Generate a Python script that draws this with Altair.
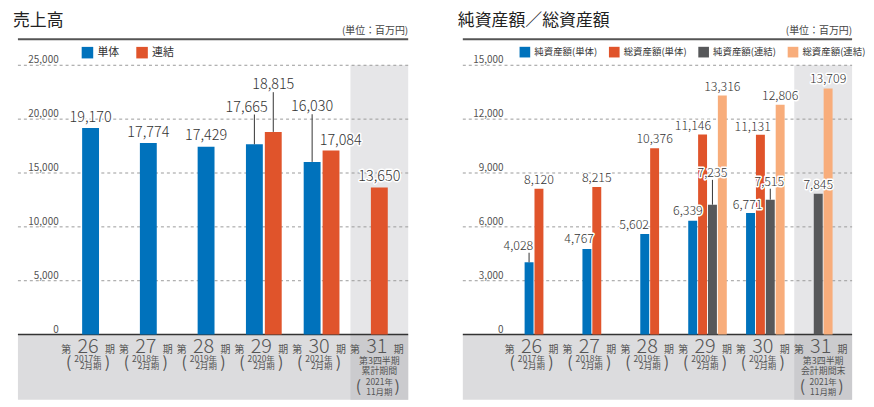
import altair as alt
import pandas as pd

FONT = "Noto Sans CJK JP"

# ---------------- data ----------------
periods = ["26", "27", "28", "29", "30", "31"]
year_labels = ["2017年", "2018年", "2019年", "2020年", "2021年", "2021年"]
month_labels = ["2月期", "2月期", "2月期", "2月期", "2月期", "11月期"]
sales_note1 = ["", "", "", "", "", "第3四半期"]
sales_note2 = ["", "", "", "", "", "累計期間"]
asset_note1 = ["", "", "", "", "", "第3四半期"]
asset_note2 = ["", "", "", "", "", "会計期間末"]

sales_series = ["単体", "連結"]
sales_standalone = [19170, 17774, 17429, 17665, 16030, None]
sales_consolidated = [None, None, None, 18815, 17084, 13650]
sales_ticks = [0, 5000, 10000, 15000, 20000, 25000]

asset_series = ["純資産額(単体)", "総資産額(単体)", "純資産額(連結)", "総資産額(連結)"]
net_assets_standalone = [4028, 4767, 5602, 6339, 6771, None]
total_assets_standalone = [8120, 8215, 10376, 11146, 11131, None]
net_assets_consolidated = [None, None, None, 7235, 7515, 7845]
total_assets_consolidated = [None, None, None, 13316, 12806, 13709]
asset_ticks = [0, 3000, 6000, 9000, 12000, 15000]

# ---------------- styling / layout ----------------
sales_colors = ["#0072bc", "#e0542b"]
asset_colors = ["#0072bc", "#e0542b", "#57585a", "#f8ad7b"]

# value label nudges: (series, period) -> (dx px, lift px above bar top, leader line)
sales_nudges = {
    ("単体", "29"): (-8, 37, True),
    ("連結", "29"): (0, 47, True),
    ("単体", "30"): (0, 55, True),
    ("連結", "30"): (10, 9.5, False),
}
asset_nudges = {
    ("純資産額(単体)", "26"): (-11, 16.6, True),
    ("純資産額(単体)", "27"): (-8, 10, False),
    ("純資産額(単体)", "28"): (-11, 9, False),
    ("純資産額(単体)", "29"): (-5, 10, False),
    ("総資産額(単体)", "29"): (-10, 8, False),
    ("純資産額(連結)", "29"): (0, 32, True),
    ("純資産額(単体)", "30"): (-3, 8.5, False),
    ("総資産額(単体)", "30"): (-8, 8, False),
    ("純資産額(連結)", "30"): (-1, 18, True),
}

BAND = "#dcdcde"
COL_TOP = "#e6e6e8"
COL_BOTTOM = "#cbcbce"
TXT = "#333333"
GRAY_TXT = "#555555"


def long_table(series, values, nudges, default_lift):
    rows = []
    for s_i, (name, vals) in enumerate(zip(series, values)):
        for c_i, v in enumerate(vals):
            if v is None:
                continue
            dx, lift, leader = nudges.get((name, periods[c_i]), (0, default_lift, False))
            rows.append({"period": periods[c_i], "idx": c_i, "series": name, "s": s_i,
                         "value": v, "dx": dx, "lift": lift, "leader": leader})
    return pd.DataFrame(rows)


def panel(title, series, values, colors, ticks, note1, note2, nudges, cfg):
    W, H = cfg["width"], cfg["height"]
    xmin, xmax, ymin, ymax = cfg["xmin"], cfg["xmax"], cfg["ymin"], cfg["ymax"]
    ppx = W / (xmax - xmin)
    ppu = H / (ymax - ymin)
    xs = alt.Scale(domain=[xmin, xmax], nice=False, zero=False)
    ys = alt.Scale(domain=[ymin, ymax], nice=False, zero=False)

    def XD(v):
        return alt.XDatum(v, scale=xs, axis=None)

    def YD(v):
        return alt.YDatum(v, scale=ys, axis=None)

    df = long_table(series, values, nudges, cfg["lift"])
    one = pd.DataFrame({"k": [0]})
    tick_df = pd.DataFrame({"tick": ticks})
    cat_df = pd.DataFrame({"idx": list(range(len(periods))), "period": periods,
                           "year": year_labels, "month": month_labels,
                           "note1": note1, "note2": note2})
    last = len(periods) - 1

    band = alt.Chart(one).mark_rect(color=BAND).encode(
        x=XD(xmin), x2=alt.X2Datum(xmax), y=YD(ymin), y2=alt.Y2Datum(0))
    col_top = alt.Chart(one).mark_rect(color=COL_TOP).encode(
        x=XD(last - 0.5), x2=alt.X2Datum(last + 0.5), y=YD(0), y2=alt.Y2Datum(ticks[-1]))
    col_bot = alt.Chart(one).mark_rect(color=COL_BOTTOM).encode(
        x=XD(last - 0.5), x2=alt.X2Datum(last + 0.5), y=YD(ymin), y2=alt.Y2Datum(0))
    grid = alt.Chart(tick_df).transform_filter("datum.tick > 0").mark_rule(
        color="#9a9a9a", strokeDash=[3, 3], strokeWidth=1).encode(
        y=alt.Y("tick:Q", scale=ys, axis=None), x=XD(xmin), x2=alt.X2Datum(xmax))
    zero = alt.Chart(one).mark_rule(color="#333333", strokeWidth=1.5).encode(
        y=YD(0), x=XD(xmin), x2=alt.X2Datum(xmax))
    sep = alt.Chart(one).mark_rule(color="#555555", strokeWidth=2).encode(
        y=YD(ymax), x=XD(xmin), x2=alt.X2Datum(xmax))
    tick_lbl = alt.Chart(tick_df).mark_text(
        align="right", baseline="alphabetic", dx=41, dy=-2, fontSize=10, color=GRAY_TXT).encode(
        x=XD(xmin), y=alt.Y("tick:Q", scale=ys, axis=None), text=alt.Text("tick:Q", format=","))
    unit = alt.Chart(one).mark_text(
        text="(単位：百万円)", align="right", baseline="middle", dy=-8.5, fontSize=10,
        color="#444444").encode(x=XD(xmax), y=YD(ymax))

    base = alt.Chart(df).transform_window(
        rk="rank()", groupby=["idx"], sort=[alt.SortField("s")]
    ).transform_joinaggregate(
        n="count()", groupby=["idx"]
    ).transform_calculate(
        pos=f"datum.idx + (datum.rk - (datum.n + 1) / 2) * {cfg['step'] / ppx}",
    ).transform_calculate(
        lx=f"datum.pos + datum.dx / {ppx}",
        ly=f"datum.value + datum.lift / {ppu}",
        ty=f"datum.value + (datum.lift - 7) / {ppu}",
    )

    bars = base.mark_bar(size=cfg["bar"], orient="vertical").encode(
        x=alt.X("pos:Q", scale=xs, axis=None),
        y=alt.Y("value:Q", scale=ys, axis=None, stack=None),
        color=alt.Color("series:N", scale=alt.Scale(domain=series, range=colors),
                        legend=alt.Legend(
                            orient="none", legendX=cfg["legX"], legendY=cfg["legY"],
                            direction="horizontal", columns=len(series), title=None,
                            symbolType="square", symbolSize=cfg["symSize"],
                            symbolStrokeWidth=0, symbolOpacity=1,
                            labelFontSize=cfg["legFont"], labelFont=FONT, labelColor=TXT,
                            labelOffset=4, columnPadding=cfg["colPad"], padding=0)),
    )
    leaders = base.transform_filter("datum.leader").mark_rule(
        color="#333333", strokeWidth=1).encode(
        x=alt.X("pos:Q", scale=xs, axis=None),
        y=alt.Y("value:Q", scale=ys, axis=None), y2="ty:Q")
    halo = base.mark_text(
        baseline="middle", fontSize=cfg["lblFont"], fontWeight=300, stroke="white",
        strokeWidth=3, strokeJoin="round", color="white").encode(
        x=alt.X("lx:Q", scale=xs, axis=None), y=alt.Y("ly:Q", scale=ys, axis=None),
        text=alt.Text("value:Q", format=","))
    labels = base.mark_text(
        baseline="middle", fontSize=cfg["lblFont"], fontWeight=300, color=TXT).encode(
        x=alt.X("lx:Q", scale=xs, axis=None), y=alt.Y("ly:Q", scale=ys, axis=None),
        text=alt.Text("value:Q", format=","))

    cx = alt.X("idx:Q", scale=xs, axis=None)
    cat = alt.Chart(cat_df)
    c_dai = cat.mark_text(text="第", fontSize=10, baseline="alphabetic", dx=-24.5, dy=18.5,
                          color=GRAY_TXT).encode(x=cx, y=YD(0))
    c_num = cat.mark_text(fontSize=20, fontWeight=300, baseline="alphabetic", dx=-2.5,
                          dy=18.5, color=GRAY_TXT).encode(x=cx, y=YD(0), text="period:N")
    c_ki = cat.mark_text(text="期", fontSize=10, baseline="alphabetic", dx=19.5, dy=18.5,
                         color=GRAY_TXT).encode(x=cx, y=YD(0))
    reg = cat.transform_filter("datum.note1 == ''")
    c_lp = reg.mark_text(text="(", fontSize=16, baseline="middle", dx=-22, dy=28.5,
                         color=GRAY_TXT).encode(x=cx, y=YD(0))
    c_rp = reg.mark_text(text=")", fontSize=16, baseline="middle", dx=17, dy=28.5,
                         color=GRAY_TXT).encode(x=cx, y=YD(0))
    c_yr = reg.mark_text(fontSize=8.5, baseline="middle", align="right", dx=11, dy=24.5,
                         color=GRAY_TXT).encode(x=cx, y=YD(0), text="year:N")
    c_mo = reg.mark_text(fontSize=8.5, baseline="middle", align="right", dx=11, dy=32,
                         color=GRAY_TXT).encode(x=cx, y=YD(0), text="month:N")
    spc = cat.transform_filter("datum.note1 != ''")
    s_n1 = spc.mark_text(fontSize=9, baseline="middle", dy=26.5, color=GRAY_TXT).encode(
        x=cx, y=YD(0), text="note1:N")
    s_n2 = spc.mark_text(fontSize=9, baseline="middle", dy=37, color=GRAY_TXT).encode(
        x=cx, y=YD(0), text="note2:N")
    s_yr = spc.mark_text(fontSize=8.5, baseline="middle", dy=48, color=GRAY_TXT).encode(
        x=cx, y=YD(0), text="year:N")
    s_mo = spc.mark_text(fontSize=8.5, baseline="middle", dy=57.5, color=GRAY_TXT).encode(
        x=cx, y=YD(0), text="month:N")
    s_lp = spc.mark_text(text="(", fontSize=16, baseline="middle", dx=-21, dy=53,
                         color=GRAY_TXT).encode(x=cx, y=YD(0))
    s_rp = spc.mark_text(text=")", fontSize=16, baseline="middle", dx=18, dy=53,
                         color=GRAY_TXT).encode(x=cx, y=YD(0))

    return alt.layer(
        band, col_top, col_bot, grid, zero, sep, tick_lbl, unit,
        bars, leaders, halo, labels,
        c_dai, c_num, c_ki, c_lp, c_rp, c_yr, c_mo, s_n1, s_n2, s_yr, s_mo, s_lp, s_rp,
    ).properties(
        width=W, height=H,
        title=alt.TitleParams(title, anchor="start", fontSize=cfg["titleFont"], font=FONT,
                              fontWeight="normal", color="#222222", offset=-4.2),
    )


H = 363
left_cfg = dict(width=403, height=H, xmin=-1.258, xmax=5.5,
                ymin=-65.5 / (271.2 / 25000), ymax=297.5 / (271.2 / 25000),
                step=19.5, bar=17, lift=10.5, lblFont=14.5,
                legX=69, legY=7.5, symSize=135, legFont=11, colPad=17, titleFont=17)
right_cfg = dict(width=402, height=H, xmin=-1.231, xmax=5.5,
                 ymin=-65.5 / (271.2 / 15000), ymax=297.5 / (271.2 / 15000),
                 step=10.2, bar=9, lift=9, lblFont=12.5,
                 legX=62, legY=7.5, symSize=115, legFont=9.5, colPad=11, titleFont=17)

left = panel("売上高", sales_series, [sales_standalone, sales_consolidated], sales_colors,
             sales_ticks, sales_note1, sales_note2, sales_nudges, left_cfg)
right = panel("純資産額／総資産額", asset_series,
              [net_assets_standalone, total_assets_standalone,
               net_assets_consolidated, total_assets_consolidated],
              asset_colors, asset_ticks, asset_note1, asset_note2, asset_nudges, right_cfg)

chart = alt.hconcat(left, right, spacing=45).resolve_scale(
    x="independent", y="independent", color="independent"
).properties(
    padding={"left": 5, "top": 2, "right": 0, "bottom": 0}
).configure(font=FONT).configure_view(stroke=None)

chart.save("out.html", embed_options={"renderer": "svg", "actions": False})
